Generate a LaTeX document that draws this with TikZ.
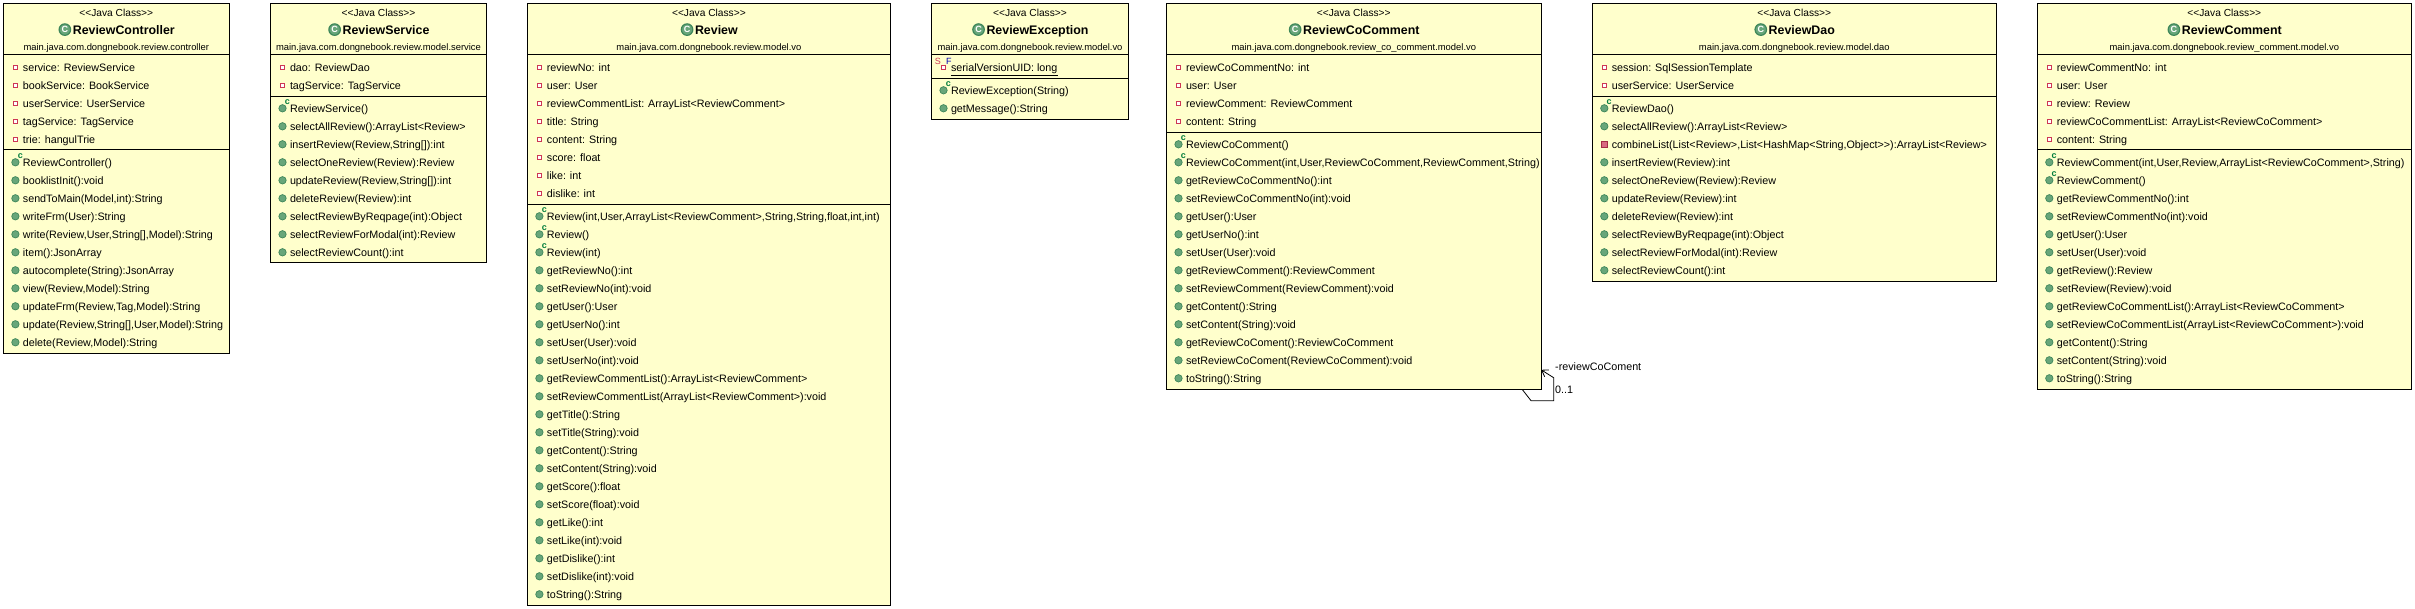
\documentclass[tikz,border=0pt]{standalone}
\usepackage{fontspec}
\setmainfont{Liberation Sans}
\usetikzlibrary{arrows.meta}

\definecolor{boxyellow}{RGB}{255,255,204}
\definecolor{dotgreen}{RGB}{104,166,122}
\definecolor{rimgreen}{RGB}{62,135,90}
\definecolor{markgreen}{RGB}{0,125,60}
\definecolor{fieldred}{RGB}{205,55,85}

\tikzstyle{classbox}=[rectangle,draw=black,fill=boxyellow,line width=1pt,anchor=north west,outer sep=0pt,inner sep=0pt]
\tikzstyle{sepline}=[draw=black,line width=1pt]
\tikzstyle{stereotype}=[font=\fontsize{10.2}{12}\selectfont,inner sep=0pt,anchor=base]
\tikzstyle{classtitle}=[font=\fontsize{12.4}{14}\bfseries\selectfont,inner sep=0pt,anchor=base]
\tikzstyle{packname}=[font=\fontsize{9.4}{12}\selectfont,inner sep=0pt,anchor=base]
\tikzstyle{rowtext}=[font=\fontsize{10.75}{13}\selectfont,inner sep=0pt,anchor=base west]
\tikzstyle{titleicon}=[circle,draw=rimgreen,line width=1.2pt,fill=dotgreen,text=white,font=\fontsize{9}{9}\bfseries\selectfont,inner sep=0pt,minimum size=11.5pt]
\tikzstyle{pub icon}=[circle,draw=rimgreen,line width=.7pt,fill=dotgreen,inner sep=0pt,minimum size=7.4pt]
\tikzstyle{ctor icon}=[pub icon,label={[ctormark]57:c}]
\tikzstyle{ctormark}=[text=markgreen,font=\fontsize{9}{9}\bfseries\selectfont,inner sep=0pt,label distance=0pt]
\tikzstyle{priv icon}=[rectangle,draw=fieldred!80!black,line width=1pt,fill=fieldred!75!white,inner sep=0pt,minimum size=5.5pt]
\tikzstyle{field icon}=[rectangle,draw=fieldred,line width=1.1pt,fill=white,inner sep=0pt,minimum size=3.6pt]
\tikzstyle{static icon}=[field icon,label={[staticmark,text=fieldred]135:S},label={[staticmark,text=blue!70!black]45:F}]
\tikzstyle{staticmark}=[font=\fontsize{9}{9}\selectfont,inner sep=0pt,label distance=0pt]
\tikzstyle{assoc}=[draw=black,line width=.8pt,-{Straight Barb[length=6pt,width=8pt]}]

% rows of a class, y of the first row given from the top of the page
\newcommand{\fieldrows}[2]{
  \foreach \rowline [count=\i] in {#2}
  {
    \node[rowtext] (#1f\i) at ([xshift=19.3pt,yshift={-(68+18*(\i-1))*1pt}]#1.north west) {\rowline};
    \node[field icon] (#1fi\i) at ([xshift=-7.3pt,yshift=4.2pt]#1f\i.base west) {};
  }
}
\newcommand{\methodrows}[3]{
  \foreach \kind/\rowline [count=\i] in {#3}
  {
    \node[rowtext] (#1m\i) at ([xshift=19.3pt,yshift={-(#2+1+18*(\i-1))*1pt}]#1.north west) {\rowline};
    \node[\kind\space icon] (#1mi\i) at ([xshift=-7.3pt,yshift=4.2pt]#1m\i.base west) {};
  }
}

\begin{document}
\begin{tikzpicture}[x=1pt,y=-1pt]
  \useasboundingbox (0,0) rectangle (2415,609);
  %classes
  \foreach \nodename/\x/\w/\h/\seplow/\classname/\pack in {
    controller/3.4/225.8/350/150/ReviewController/main.java.com.dongnebook.review.controller,
    service/270.5/216/259.5/96.5/ReviewService/main.java.com.dongnebook.review.model.service,
    review/527.4/363/601.8/204.5/Review/main.java.com.dongnebook.review.model.vo,
    exception/931.5/197/115.8/78.5/ReviewException/main.java.com.dongnebook.review.model.vo,
    cocomment/1166.5/374.6/385.8/132.5/ReviewCoComment/main.java.com.dongnebook.review\_co\_comment.model.vo,
    dao/1592.3/404/277.8/96.5/ReviewDao/main.java.com.dongnebook.review.model.dao,
    comment/2037.3/374/385.8/150/ReviewComment/main.java.com.dongnebook.review\_comment.model.vo}
  {
    \node[classbox,minimum width=\w pt,minimum height=\h pt] (\nodename) at (\x,3.5) {};
    \node[stereotype] (\nodename st) at ([yshift=-13.2pt]\nodename.north) {<{}<Java Class>{}>};
    \node[classtitle] (\nodename ti) at ([xshift=7.5pt,yshift=-30.7pt]\nodename.north) {\classname};
    \node[titleicon,left=1.4pt] (\nodename ic) at ([yshift=4.6pt]\nodename ti.base west) {C};
    \node[packname] (\nodename pk) at ([yshift=-46.7pt]\nodename.north) {\pack};
    \draw[sepline] ([yshift=-51.5pt]\nodename.north west) -- ([yshift=-51.5pt]\nodename.north east);
    \draw[sepline] ([yshift={-(\seplow-3.5)*1pt}]\nodename.north west) -- ([yshift={-(\seplow-3.5)*1pt}]\nodename.north east);
  };
  %fields
  \fieldrows{controller}{service: ReviewService, bookService: BookService, userService: UserService, tagService: TagService, trie: hangulTrie}
  \fieldrows{service}{dao: ReviewDao, tagService: TagService}
  \fieldrows{review}{reviewNo: int, user: User, reviewCommentList: ArrayList<ReviewComment>, title: String, content: String, score: float, like: int, dislike: int}
  \fieldrows{cocomment}{reviewCoCommentNo: int, user: User, reviewComment: ReviewComment, content: String}
  \fieldrows{dao}{session: SqlSessionTemplate, userService: UserService}
  \fieldrows{comment}{reviewCommentNo: int, user: User, review: Review, reviewCoCommentList: ArrayList<ReviewCoComment>, content: String}
  \node[rowtext] (exceptionf1) at ([xshift=19.3pt,yshift=-68pt]exception.north west) {serialVersionUID: long};
  \node[static icon] (exceptionfi1) at ([xshift=-7.3pt,yshift=4.2pt]exceptionf1.base west) {};
  \draw[line width=.8pt] ([yshift=-3.5pt]exceptionf1.base west) -- ([yshift=-3.5pt]exceptionf1.base east);
  %methods
  \methodrows{controller}{162}{ctor/ReviewController(), pub/booklistInit():void, pub/{sendToMain(Model,int):String}, pub/writeFrm(User):String, pub/{write(Review,User,String[],Model):String}, pub/item():JsonArray, pub/autocomplete(String):JsonArray, pub/{view(Review,Model):String}, pub/{updateFrm(Review,Tag,Model):String}, pub/{update(Review,String[],User,Model):String}, pub/{delete(Review,Model):String}}
  \methodrows{service}{108}{ctor/ReviewService(), pub/selectAllReview():ArrayList<Review>, pub/{insertReview(Review,String[]):int}, pub/selectOneReview(Review):Review, pub/{updateReview(Review,String[]):int}, pub/deleteReview(Review):int, pub/selectReviewByReqpage(int):Object, pub/selectReviewForModal(int):Review, pub/selectReviewCount():int}
  \methodrows{review}{216}{ctor/{Review(int,User,ArrayList<ReviewComment>,String,String,float,int,int)}, ctor/Review(), ctor/Review(int), pub/getReviewNo():int, pub/setReviewNo(int):void, pub/getUser():User, pub/getUserNo():int, pub/setUser(User):void, pub/setUserNo(int):void, pub/getReviewCommentList():ArrayList<ReviewComment>, pub/setReviewCommentList(ArrayList<ReviewComment>):void, pub/getTitle():String, pub/setTitle(String):void, pub/getContent():String, pub/setContent(String):void, pub/getScore():float, pub/setScore(float):void, pub/getLike():int, pub/setLike(int):void, pub/getDislike():int, pub/setDislike(int):void, pub/toString():String}
  \methodrows{exception}{90}{ctor/ReviewException(String), pub/getMessage():String}
  \methodrows{cocomment}{144}{ctor/ReviewCoComment(), ctor/{ReviewCoComment(int,User,ReviewCoComment,ReviewComment,String)}, pub/getReviewCoCommentNo():int, pub/setReviewCoCommentNo(int):void, pub/getUser():User, pub/getUserNo():int, pub/setUser(User):void, pub/getReviewComment():ReviewComment, pub/setReviewComment(ReviewComment):void, pub/getContent():String, pub/setContent(String):void, pub/getReviewCoComent():ReviewCoComment, pub/setReviewCoComent(ReviewCoComment):void, pub/toString():String}
  \methodrows{dao}{108}{ctor/ReviewDao(), pub/selectAllReview():ArrayList<Review>, priv/{combineList(List<Review>,List<HashMap<String,Object>{}>):ArrayList<Review>}, pub/insertReview(Review):int, pub/selectOneReview(Review):Review, pub/updateReview(Review):int, pub/deleteReview(Review):int, pub/selectReviewByReqpage(int):Object, pub/selectReviewForModal(int):Review, pub/selectReviewCount():int}
  \methodrows{comment}{162}{ctor/{ReviewComment(int,User,Review,ArrayList<ReviewCoComment>,String)}, ctor/ReviewComment(), pub/getReviewCommentNo():int, pub/setReviewCommentNo(int):void, pub/getUser():User, pub/setUser(User):void, pub/getReview():Review, pub/setReview(Review):void, pub/getReviewCoCommentList():ArrayList<ReviewCoComment>, pub/setReviewCoCommentList(ArrayList<ReviewCoComment>):void, pub/getContent():String, pub/setContent(String):void, pub/toString():String}
  %self association
  \coordinate (loopa) at ([xshift=-19pt]cocomment.south east);
  \node[rowtext] (rolename) at (1555,371) {-reviewCoComent};
  \node[rowtext] (multi) at (1555,394) {0..1};
  \draw[assoc] (loopa) -- ++(9,11.5) -- ++(22.7,0) -- ++(0,-23) -- ([yshift=19.5pt]cocomment.south east);
\end{tikzpicture}
\end{document}
